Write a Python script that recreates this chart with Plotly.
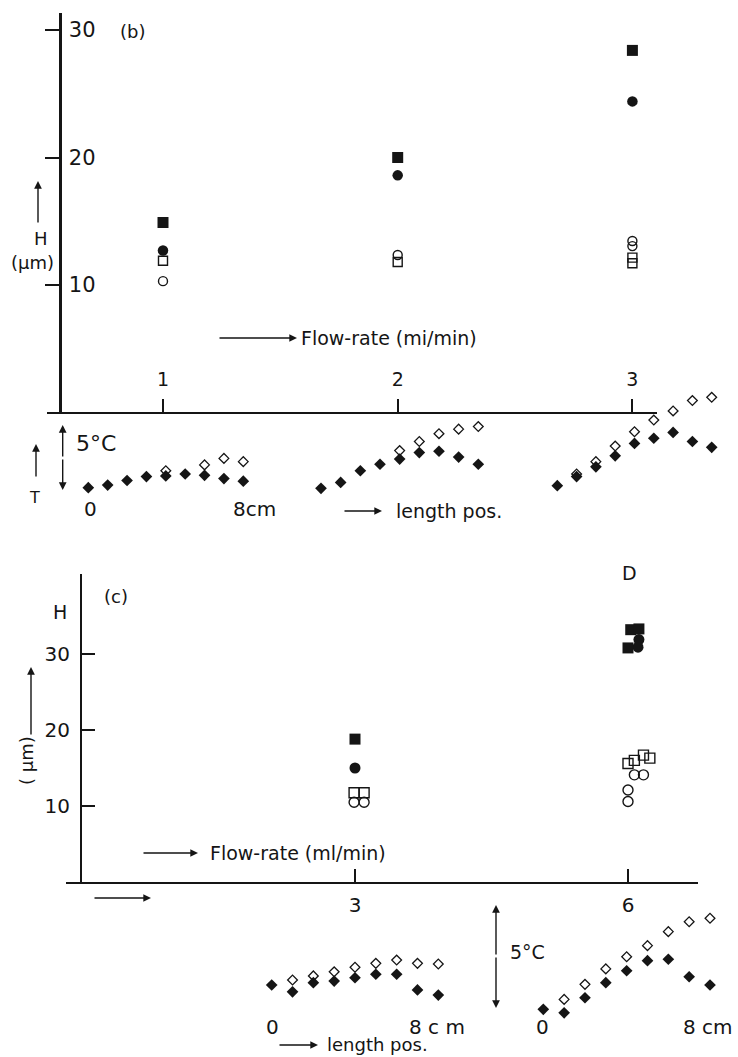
import plotly.graph_objects as go

W, H = 738, 1057
INK = "#151515"
FONT = "DejaVu Sans, Lato, sans-serif"


def fx(p):
    return p / W


def fy(p):
    return 1 - p / H


# ---------------- data ----------------
flow_ticks_b = [1, 2, 3]
flow_ticks_c = [3, 6]
H_ticks = [10, 20, 30]

# panel (b): H (um) vs flow-rate
b_fsq_x = [1, 2, 3]
b_fsq_y = [14.9, 20.0, 28.4]
b_fci_x = [1, 2, 3]
b_fci_y = [12.7, 18.6, 24.4]
b_osq_x = [1, 2, 3, 3]
b_osq_y = [11.9, 11.8, 12.15, 11.7]
b_oci_x = [1, 2, 3, 3]
b_oci_y = [10.3, 12.35, 13.45, 13.05]

# panel (c)
c_fsq_x = [3, 6.0, 6.03, 6.12]
c_fsq_y = [18.8, 30.8, 33.2, 33.3]
c_fci_x = [3, 6.12, 6.11]
c_fci_y = [15.0, 31.9, 30.9]
c_osq_x = [2.99, 3.1, 6.0, 6.07, 6.17, 6.24]
c_osq_y = [11.75, 11.75, 15.6, 16.0, 16.7, 16.3]
c_oci_x = [2.99, 3.1, 6.07, 6.17, 6.0, 6.0]
c_oci_y = [10.5, 10.5, 14.1, 14.1, 12.1, 10.6]

# temperature profiles (relative degC) along length position (cm)
length_pos = [0, 1, 2, 3, 4, 5, 6, 7, 8]
b1_filled = [0.95, 1.15, 1.5, 1.8, 1.85, 2.0, 1.9, 1.65, 1.45]
b1_open_pos = [4, 6, 7, 8]
b1_open = [2.25, 2.7, 3.2, 2.95]
b2_filled = [0.9, 1.35, 2.25, 2.75, 3.15, 3.65, 3.75, 3.3, 2.75]
b2_open_pos = [4, 5, 6, 7, 8]
b2_open = [3.8, 4.5, 5.1, 5.45, 5.65]
b3_filled = [1.1, 1.8, 2.55, 3.4, 4.35, 4.75, 5.2, 4.5, 4.05]
b3_open_pos = [1, 2, 3, 4, 5, 6, 7, 8]
b3_open = [2.0, 2.95, 4.15, 5.25, 6.15, 6.85, 7.65, 7.9]

c1_filled = [1.7, 1.37, 1.81, 1.89, 2.05, 2.22, 2.22, 1.46, 1.21]
c1_open_pos = [1, 2, 3, 4, 5, 6, 7, 8]
c1_open = [1.94, 2.14, 2.34, 2.56, 2.75, 2.91, 2.75, 2.72]
c2_filled = [0.52, 0.35, 1.08, 1.81, 2.39, 2.88, 2.95, 2.1, 1.7]
c2_open_pos = [1, 2, 3, 4, 5, 6, 7, 8]
c2_open = [1.0, 1.73, 2.48, 3.07, 3.61, 4.29, 4.77, 4.94]

# ---------------- figure ----------------
fig = go.Figure()


def add(x, y, sym, size, xa, ya, lw=1.4):
    fig.add_trace(go.Scatter(
        x=x, y=y, mode="markers", xaxis=xa, yaxis=ya, hoverinfo="skip",
        cliponaxis=False,
        marker=dict(symbol=sym, size=size, color=INK,
                    line=dict(color=INK, width=lw))))


# panel (b)
add(b_osq_x, b_osq_y, "square-open", 9, "x", "y")
add(b_oci_x, b_oci_y, "circle-open", 9, "x", "y")
add(b_fci_x, b_fci_y, "circle", 10.5, "x", "y", 0)
add(b_fsq_x, b_fsq_y, "square", 11, "x", "y", 0)

# panel (c)
add(c_osq_x, c_osq_y, "square-open", 10, "x2", "y2")
add(c_oci_x, c_oci_y, "circle-open", 10, "x2", "y2")
add(c_fci_x, c_fci_y, "circle", 11, "x2", "y2", 0)
add(c_fsq_x, c_fsq_y, "square", 11, "x2", "y2", 0)

# T profiles row (b)
for xa, fil, opos, ov in [("x3", b1_filled, b1_open_pos, b1_open),
                          ("x4", b2_filled, b2_open_pos, b2_open),
                          ("x5", b3_filled, b3_open_pos, b3_open)]:
    add(opos, ov, "diamond-open", 7.5, xa, "y3", 1.3)
    add(length_pos, fil, "diamond", 9, xa, "y3", 0)

# T profiles row (c)
for xa, fil, opos, ov in [("x6", c1_filled, c1_open_pos, c1_open),
                          ("x7", c2_filled, c2_open_pos, c2_open)]:
    add(opos, ov, "diamond-open", 7.5, xa, "y4", 1.3)
    add(length_pos, fil, "diamond", 9, xa, "y4", 0)

# ---------------- axes ----------------
b_x0, b_x1 = 46.7, 656.7
b_tick1, b_ppu = 163.0, 234.7
b_ytop, b_ybot = 13.3, 411.7
b_y0px, b_yppu = 412.5, 12.75

c_x0, c_x1 = 66.0, 698.0
c_tick3, c_ppu = 355.0, 91.0
c_ytop, c_ybot = 574.0, 881.7
c_y0px, c_yppu = 882.0, 7.6

axis_common = dict(showgrid=False, zeroline=False, showline=True,
                   linecolor=INK, tickcolor=INK, tickwidth=2)


def tf(size):
    return dict(size=size, family=FONT, color=INK, weight="normal")


layout = dict(
    width=W, height=H, margin=dict(l=0, r=0, t=0, b=0),
    paper_bgcolor="white", plot_bgcolor="rgba(0,0,0,0)", showlegend=False,
    font=dict(family=FONT, size=20, color=INK),
    xaxis=dict(domain=[fx(b_x0), fx(b_x1)],
               range=[1 + (b_x0 - b_tick1) / b_ppu, 1 + (b_x1 - b_tick1) / b_ppu],
               anchor="y", linewidth=2, tickvals=flow_ticks_b, ticks="inside",
               ticklen=13, ticklabelposition="inside", ticklabelstandoff=10,
               tickfont=tf(19), **axis_common),
    yaxis=dict(domain=[fy(b_ybot), fy(b_ytop)],
               range=[(b_y0px - b_ybot) / b_yppu, (b_y0px - b_ytop) / b_yppu],
               anchor="free", position=fx(60), linewidth=3, tickvals=H_ticks,
               ticks="outside", ticklen=14, ticklabelposition="inside",
               ticklabelstandoff=8, tickfont=tf(21), **axis_common),
    xaxis2=dict(domain=[fx(c_x0), fx(c_x1)],
                range=[3 + (c_x0 - c_tick3) / c_ppu, 3 + (c_x1 - c_tick3) / c_ppu],
                anchor="y2", linewidth=2, tickvals=flow_ticks_c, ticks="inside",
                ticklen=13, ticklabelstandoff=4, tickfont=tf(20),
                **axis_common),
    yaxis2=dict(domain=[fy(c_ybot), fy(c_ytop)],
                range=[(c_y0px - c_ybot) / c_yppu, (c_y0px - c_ytop) / c_yppu],
                anchor="free", position=fx(81), linewidth=2, tickvals=H_ticks,
                ticks="inside", ticklen=13, ticklabelstandoff=6,
                tickfont=tf(20), **axis_common),
)

# temperature-profile axes (hidden)
tb_top, tb_bot, tb_base, tb_ppd = 380.0, 515.0, 500.0, 13.0
tc_top, tc_bot, tc_base, tc_ppd = 895.0, 1030.0, 1020.0, 20.6
layout["yaxis3"] = dict(domain=[fy(tb_bot), fy(tb_top)],
                        range=[(tb_base - tb_bot) / tb_ppd, (tb_base - tb_top) / tb_ppd],
                        visible=False, anchor="x3")
layout["yaxis4"] = dict(domain=[fy(tc_bot), fy(tc_top)],
                        range=[(tc_base - tc_bot) / tc_ppd, (tc_base - tc_top) / tc_ppd],
                        visible=False, anchor="x6")
pad = 14.0
groups = {"xaxis3": (88.3, 243.3, "y3"), "xaxis4": (321.0, 478.3, "y3"),
          "xaxis5": (557.3, 711.7, "y3"), "xaxis6": (271.7, 438.3, "y4"),
          "xaxis7": (543.3, 710.0, "y4")}
for name, (s, e, ya) in groups.items():
    ppc = (e - s) / 8.0
    layout[name] = dict(domain=[fx(s - pad), fx(e + pad)],
                        range=[-pad / ppc, 8 + pad / ppc], visible=False,
                        anchor=ya)

fig.update_layout(**layout)

# ---------------- annotations ----------------
ann = []


def text(t, x, y, size=20, xanchor="center", angle=0):
    ann.append(dict(text=t, x=fx(x), y=fy(y), xref="paper", yref="paper",
                    showarrow=False, xanchor=xanchor, yanchor="middle",
                    textangle=angle, font=tf(size)))


def arrow(x0, y0, x1, y1, w=1.4):
    ann.append(dict(text="", x=fx(x1), y=fy(y1), xref="paper", yref="paper",
                    ax=x0 - x1, ay=y0 - y1, axref="pixel", ayref="pixel",
                    showarrow=True, arrowhead=2, arrowsize=1.1, arrowwidth=w,
                    arrowcolor=INK, standoff=0))


# panel (b)
text("(b)", 132, 31, 18)
arrow(38, 224, 38, 181)
text("H", 41, 238, 18)
text("(\u03bcm)", 32, 262, 18)
arrow(218, 338, 297, 338)
text("Flow-rate (mi/min)", 299, 338, 19, xanchor="left")
arrow(36, 478, 36, 444)
text("T", 34, 498, 16)
arrow(62.7, 458, 62.7, 425)
arrow(62.7, 458, 62.7, 490)
text("5\u00b0C", 96, 443, 22)
text("0", 90, 509, 20)
text("8cm", 254, 509, 20)
arrow(343, 511, 382, 511)
text("length pos.", 394, 511, 19, xanchor="left")

# panel (c)
text("D", 629, 573, 19)
text("(c)", 116, 596, 18)
text("H", 60, 612, 19)
text("( \u03bcm)", 26, 760, 18, angle=-90)
arrow(31, 736, 31, 667)
arrow(142, 853, 198, 853)
text("Flow-rate (ml/min)", 208, 853, 19, xanchor="left")
arrow(93, 898, 151, 898)
arrow(496, 956, 496, 905)
arrow(496, 956, 496, 1008)
text("5\u00b0C", 527, 952, 19)
text("0", 272, 1027, 20)
text("8 c m", 437, 1027, 20)
text("0", 542, 1027, 20)
text("8 cm", 735, 1027, 20, xanchor="right")
arrow(278, 1045, 318, 1045)
text("length pos.", 325, 1044, 18, xanchor="left")

fig.update_layout(annotations=ann)
fig.write_html("out.html")
